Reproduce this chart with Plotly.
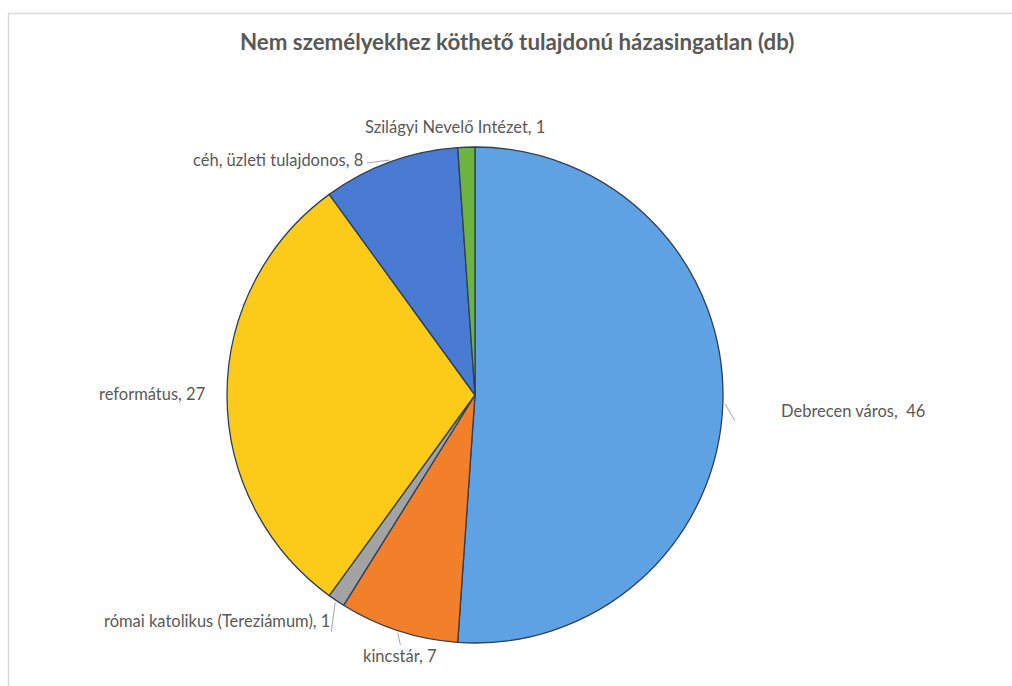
import math
import plotly.graph_objects as go

# ---- data ----
labels = ["Debrecen város", "kincstár", "római katolikus (Tereziámum)",
          "református", "céh, üzleti tulajdonos", "Szilágyi Nevelő Intézet"]
values = [46, 7, 1, 27, 8, 1]
label_texts = ["Debrecen város,  46", "kincstár, 7", "római katolikus (Tereziámum), 1",
               "református, 27", "céh, üzleti tulajdonos, 8", "Szilágyi Nevelő Intézet, 1"]
title_text = "Nem személyekhez köthető tulajdonú házasingatlan (db)"

# ---- styling ----
W, H = 1012, 686
colors = ["#5FA2E4", "#F27F2A", "#A3A3A3", "#FCCB1A", "#4A7BD3", "#6CB33F"]
font_family = "Lato, 'Open Sans', sans-serif"
text_color = "#595959"
CX, CY, R = 475, 395, 248  # pie centre / radius in pixels
# label placement relative to the slice's outer mid-point: (dx, dy, xanchor, leader end dx, dy or None)
label_style = {
    "Debrecen város": (56, 7, "left", (12, 17)),
    "kincstár": (2, 25, "center", (2, 14)),
    "római katolikus (Tereziámum)": (-4, 20, "right", (-5, 31)),
    "református": (-20, -1, "right", None),
    "céh, üzleti tulajdonos": (-25, -2, "right", (-23, 1)),
    "Szilágyi Nevelő Intézet": (-11, -20, "center", None),
}


def px(x):
    return x / W


def py(y):
    return 1 - y / H


fig = go.Figure(go.Pie(
    labels=labels, values=values, sort=False, direction="clockwise", rotation=0,
    marker=dict(colors=colors, line=dict(color="#2F3F55", width=1.3)),
    textinfo="none", hoverinfo="label+value", showlegend=False,
    domain=dict(x=[px(CX - R), px(CX + R)], y=[py(CY + R), py(CY - R)]),
))

annotations = [dict(text=f"<b>{title_text}</b>", x=px(517), y=py(42), xref="paper", yref="paper",
                    showarrow=False, xanchor="center", yanchor="middle",
                    font=dict(family=font_family, size=22.3, color=text_color))]
shapes = [
    dict(type="line", xref="paper", yref="paper", x0=px(8), x1=1, y0=py(13.5), y1=py(13.5),
         line=dict(color="#D9D9D9", width=1.5)),
    dict(type="line", xref="paper", yref="paper", x0=px(8.5), x1=px(8.5), y0=py(13.5), y1=0,
         line=dict(color="#D9D9D9", width=1.5)),
]

total = sum(values)
cum = 0
for lab, val, txt in zip(labels, values, label_texts):
    mid = (cum + val / 2) / total * 2 * math.pi
    cum += val
    ux, uy = math.sin(mid), -math.cos(mid)
    ex, ey = CX + R * ux, CY + R * uy
    ox, oy, xa, lead = label_style[lab]
    annotations.append(dict(text=txt, x=px(ex + ox), y=py(ey + oy), xref="paper", yref="paper",
                            showarrow=False, xanchor=xa, yanchor="middle",
                            font=dict(family=font_family, size=16.5, color=text_color)))
    if lead is not None:
        shapes.append(dict(type="line", xref="paper", yref="paper",
                           x0=px(ex + 2 * ux), y0=py(ey + 2 * uy),
                           x1=px(ex + lead[0]), y1=py(ey + lead[1]),
                           line=dict(color="#A6A6A6", width=1)))

fig.update_layout(
    width=W, height=H, margin=dict(l=0, r=0, t=0, b=0),
    paper_bgcolor="white", plot_bgcolor="white",
    annotations=annotations, shapes=shapes,
)
fig.write_html("out.html", config={"displayModeBar": False},
               post_script="document.body.style.margin='0';document.body.style.overflow='hidden';")
